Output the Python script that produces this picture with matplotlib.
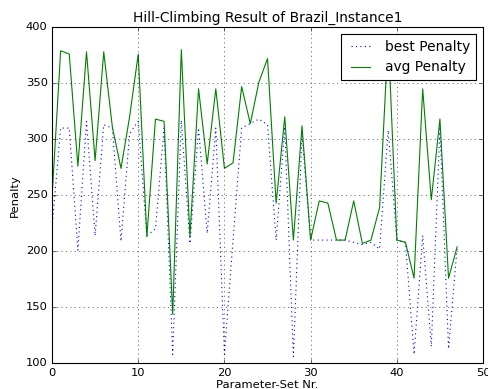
import matplotlib
matplotlib.use("Agg")
import matplotlib.pyplot as plt

plt.style.use("classic")
plt.rcParams["font.size"] = 10.3

param_sets = list(range(48))
best_penalty = [221, 310, 310, 201, 316, 214, 313, 310, 209, 305,
                316, 214, 220, 310, 108, 317, 207, 310, 216, 310,
                108, 210, 310, 314, 318, 313, 210, 311, 106, 305,
                210, 210, 210, 210, 210, 208, 206, 208, 202, 308,
                210, 208, 108, 214, 115, 311, 113, 204]
avg_penalty = [248, 379, 376, 276, 378, 281, 378, 311, 274, 320,
               376, 213, 318, 316, 144, 380, 213, 345, 278, 345,
               274, 279, 347, 314, 351, 372, 243, 320, 210, 312,
               210, 245, 243, 210, 210, 245, 207, 210, 239, 392,
               210, 208, 176, 345, 246, 318, 176, 204]

fig = plt.figure(figsize=(6.1, 4.8625), dpi=80)
ax = fig.add_axes([0.1066, 0.066, 0.8832, 0.864])

ax.plot(param_sets, best_penalty, "b:", label="best Penalty")
ax.plot(param_sets, avg_penalty, "g-", label="avg Penalty")

ax.set_xlim(0, 50)
ax.set_ylim(100, 400)
ax.set_title("Hill-Climbing Result of Brazil_Instance1")
ax.set_xlabel("Parameter-Set Nr.", labelpad=2)
ax.set_ylabel("Penalty")
ax.grid(True)
ax.legend(loc="upper right")

fig.savefig("out.png", dpi=80)
